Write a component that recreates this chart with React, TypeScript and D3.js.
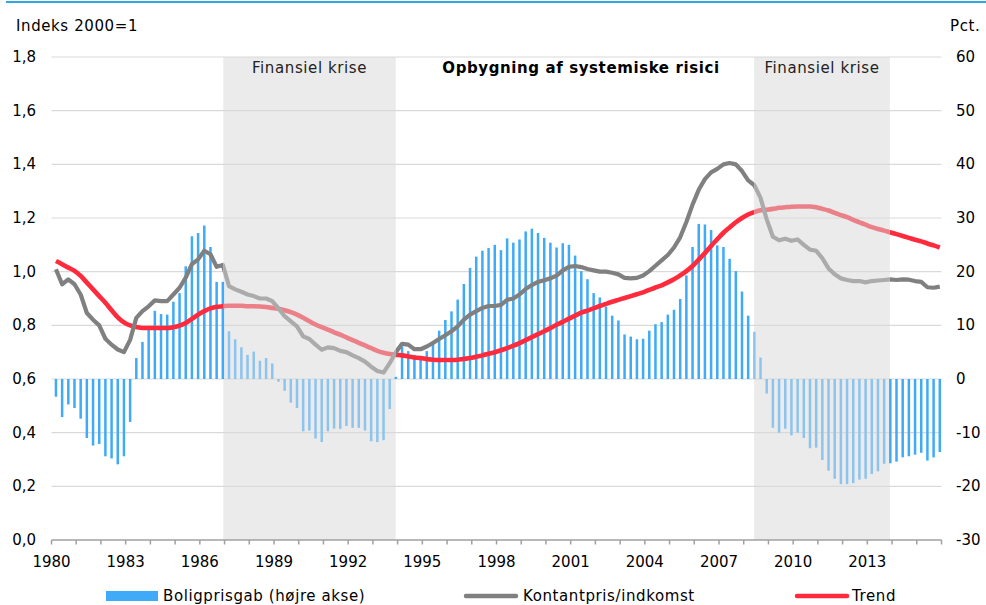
import * as d3 from 'd3'

// Quarterly data 1980Q1 - 2015Q4
const FIRST_YEAR = 1980
const N_QUARTERS = 144

// Boligprisgab, pct. (right axis)
const GAP = [
  -3.3, -7.1, -4.75, -5.4, -7.4, -11, -12.4, -12.1, -14.4, -14.8, -15.9, -14.4,
  -8, 3.9, 6.9, 9.6, 12.7, 12.1, 12.0, 14.4, 16.0, 21.0, 26.6, 27.2,
  28.6, 24.6, 18.1, 18.1, 8.9, 7.4, 5.9, 4.5, 5.1, 3.4, 3.9, 2.9,
  -0.5, -2.2, -4.4, -5.4, -9.75, -9.6, -11.1, -11.75, -9.75, -9.25, -9.3, -8.75,
  -9.1, -9.1, -9.6, -11.6, -11.75, -11.4, -5.6, 0.4, 6.0, 5.2, 4.5, 4.3,
  5.2, 7.1, 9.0, 11.0, 12.6, 14.8, 17.7, 20.7, 22.8, 23.9, 24.4, 25.0,
  24.0, 26.2, 25.4, 26.0, 27.5, 28.0, 27.2, 26.3, 25.4, 24.5, 25.3, 25.0,
  23.0, 20.1, 18.6, 16.0, 15.2, 13.5, 11.8, 10.9, 8.3, 7.9, 7.4, 7.5,
  9.0, 10.2, 10.6, 12.0, 12.9, 14.9, 19.3, 24.6, 28.9, 28.8, 27.75, 24.9,
  24.6, 22.4, 20.1, 16.3, 11.8, 8.8, 4.0, -2.7, -9.1, -10, -9.25, -10.5,
  -10, -11, -12.9, -12.8, -15.1, -17.1, -18.6, -19.6, -19.6, -19.4, -18.75, -18.6,
  -17.7, -17.2, -15.8, -15.7, -15.4, -14.6, -14.4, -14.1, -13.75, -15.2, -14.6, -13.6,
]

// Kontantpris/indkomst, indeks 2000=1 (left axis)
const PRICE_INCOME = [
  1.009, 0.953, 0.971, 0.953, 0.915, 0.846, 0.821, 0.80, 0.75, 0.728, 0.71, 0.70,
  0.746, 0.828, 0.853, 0.871, 0.893, 0.89, 0.89, 0.915, 0.94, 0.978, 1.028, 1.046,
  1.078, 1.065, 1.018, 1.025, 0.946, 0.934, 0.925, 0.915, 0.909, 0.90, 0.90, 0.89,
  0.863, 0.834, 0.815, 0.796, 0.759, 0.749, 0.728, 0.709, 0.718, 0.715, 0.705, 0.70,
  0.688, 0.678, 0.665, 0.646, 0.63, 0.624, 0.659, 0.70, 0.731, 0.728, 0.711, 0.711,
  0.721, 0.734, 0.749, 0.763, 0.778, 0.796, 0.821, 0.84, 0.853, 0.865, 0.872, 0.872,
  0.876, 0.895, 0.9, 0.915, 0.935, 0.95, 0.962, 0.968, 0.975, 0.985, 1.005, 1.018,
  1.021, 1.017, 1.01, 1.005, 1.0, 1.0, 0.996, 0.99, 0.977, 0.975, 0.977, 0.986,
  1.002, 1.022, 1.042, 1.062, 1.09, 1.128, 1.185, 1.25, 1.305, 1.345, 1.37, 1.383,
  1.40, 1.405, 1.40, 1.375, 1.34, 1.322, 1.275, 1.195, 1.13, 1.117, 1.123, 1.115,
  1.12, 1.1, 1.082, 1.078, 1.05, 1.012, 0.99, 0.975, 0.969, 0.965, 0.965, 0.96,
  0.965, 0.967, 0.969, 0.971, 0.969, 0.971, 0.97, 0.965, 0.962, 0.942, 0.94, 0.944,
]

// Trend (left axis)
const TREND = [
  1.04, 1.028, 1.015, 1.003, 0.984, 0.959, 0.934, 0.909, 0.884, 0.856, 0.83, 0.811,
  0.80, 0.794, 0.79, 0.79, 0.79, 0.79, 0.79, 0.793, 0.799, 0.809, 0.824, 0.84,
  0.853, 0.863, 0.869, 0.871, 0.873, 0.873, 0.873, 0.871, 0.871, 0.87, 0.868, 0.865,
  0.862, 0.856, 0.849, 0.84, 0.828, 0.815, 0.803, 0.793, 0.784, 0.774, 0.765, 0.755,
  0.745, 0.735, 0.725, 0.715, 0.705, 0.698, 0.693, 0.69, 0.688, 0.684, 0.68, 0.678,
  0.674, 0.672, 0.671, 0.671, 0.671, 0.672, 0.675, 0.678, 0.683, 0.688, 0.694, 0.70,
  0.707, 0.715, 0.724, 0.734, 0.745, 0.756, 0.767, 0.778, 0.79, 0.802, 0.813, 0.825,
  0.836, 0.847, 0.855, 0.863, 0.872, 0.88, 0.888, 0.895, 0.902, 0.909, 0.916, 0.923,
  0.932, 0.941, 0.949, 0.96, 0.972, 0.986, 1.002, 1.021, 1.045, 1.069, 1.096, 1.121,
  1.145, 1.165, 1.184, 1.2, 1.213, 1.222, 1.229, 1.231, 1.234, 1.238, 1.24, 1.242,
  1.243, 1.243, 1.243, 1.24, 1.234, 1.228, 1.219, 1.211, 1.203, 1.193, 1.184, 1.175,
  1.166, 1.159, 1.153, 1.146, 1.14, 1.133, 1.126, 1.119, 1.113, 1.105, 1.098, 1.09,
]

// Crisis periods (decimal years)
const CRISES = [
  { from: 1986.95, to: 1993.925, label: 'Finansiel krise' },
  { from: 2008.42, to: 2013.91, label: 'Finansiel krise' },
]

const LEFT_TICKS = [0, 0.2, 0.4, 0.6, 0.8, 1.0, 1.2, 1.4, 1.6, 1.8]
const RIGHT_TICKS = [-30, -20, -10, 0, 10, 20, 30, 40, 50, 60]
const YEAR_LABELS = d3.range(1980, 2014, 3)

const FONT = '"DejaVu Sans", Verdana, sans-serif'
const BLUE = '#3FAAF7'
const BLUE_FADED = '#8DC4EE'
const GRAY = '#808080'
const GRAY_FADED = '#ABABAB'
const RED = '#FF2B3D'
const RED_FADED = '#EB8089'

const W = 986
const H = 605
const WORD_SPACING = 0.6 // Verdana is a bit wider than DejaVu

export default function App() {
  const x = d3.scaleLinear().domain([1980, 2016]).range([51.5, 941.5])
  const yL = d3.scaleLinear().domain([0, 1.8]).range([540, 57])
  const yR = d3.scaleLinear().domain([-30, 60]).range([540, 57])

  const times = d3.range(N_QUARTERS).map((i) => FIRST_YEAR + 0.18 + i / 4)
  const inCrisis = (t: number) => CRISES.some((c) => t >= c.from && t < c.to)

  const priceLine = d3.line<number>()
    .x((_, i) => x(times[i]))
    .y((d) => yL(d))
  const trendLine = d3.line<number>()
    .x((_, i) => x(times[i]))
    .y((d) => yL(d))
    .curve(d3.curveMonotoneX)

  const pricePath = priceLine(PRICE_INCOME) || ''
  const trendPath = trendLine(TREND) || ''

  // outside-crisis clip regions
  const bounds = [x(1980) - 10, ...CRISES.flatMap((c) => [x(c.from), x(c.to)]), W]
  const outside: [number, number][] = []
  for (let k = 0; k < bounds.length; k += 2) outside.push([bounds[k], bounds[k + 1]])

  const txt = { fontSize: 15, fill: '#000', letterSpacing: WORD_SPACING }

  return (
    <div style={{ position: 'absolute', left: 0, top: 0 }}>
      <svg width={W} height={H} style={{ display: 'block', background: '#fff', fontFamily: FONT }}>
        <defs>
          <clipPath id="clip-in">
            {CRISES.map((c, k) => (
              <rect key={k} x={x(c.from)} y={0} width={x(c.to) - x(c.from)} height={H} />
            ))}
          </clipPath>
          <clipPath id="clip-out">
            {outside.map(([a, b], k) => (
              <rect key={k} x={a} y={0} width={b - a} height={H} />
            ))}
          </clipPath>
        </defs>

        {/* top rule */}
        <line x1={6} x2={W} y1={2} y2={2} stroke="#2EA9E1" strokeWidth={2} />

        {/* crisis shading */}
        {CRISES.map((c, k) => (
          <rect key={k} x={x(c.from)} y={yL(1.8)} width={x(c.to) - x(c.from)}
            height={yL(0) - yL(1.8)} fill="#EBEBEB" />
        ))}

        {/* grid */}
        {LEFT_TICKS.filter((t) => t > 0).map((t) => (
          <line key={t} x1={x(1980)} x2={x(2016)} y1={yL(t)} y2={yL(t)} stroke="#D9D9D9" strokeWidth={1.2} />
        ))}

        {/* bars */}
        {GAP.map((v, i) => {
          const t = times[i]
          const y0 = yR(0)
          const y1 = yR(v)
          return (
            <rect key={i} x={x(t) - 1.25} width={2.5}
              y={Math.min(y0, y1)} height={Math.abs(y1 - y0)}
              fill={inCrisis(t) ? BLUE_FADED : BLUE} />
          )
        })}

        {/* lines */}
        <g fill="none" strokeWidth={4.2} strokeLinejoin="round">
          <path d={trendPath} stroke={RED} clipPath="url(#clip-out)" strokeWidth={4.6} />
          <path d={trendPath} stroke={RED_FADED} clipPath="url(#clip-in)" strokeWidth={4.6} />
          <path d={pricePath} stroke={GRAY} clipPath="url(#clip-out)" />
          <path d={pricePath} stroke={GRAY_FADED} clipPath="url(#clip-in)" />
        </g>

        {/* x axis */}
        <line x1={x(1980)} x2={x(2016)} y1={yL(0)} y2={yL(0)} stroke="#A0A0A0" strokeWidth={1.5} />
        {d3.range(1980, 2017).map((yr) => (
          <line key={yr} x1={x(yr)} x2={x(yr)} y1={yL(0)} y2={yL(0) + 4.5} stroke="#A0A0A0" strokeWidth={1.5} />
        ))}
        {YEAR_LABELS.map((yr) => (
          <text key={yr} x={x(yr)} y={567} textAnchor="middle" fontSize={15} fill="#000">{yr}</text>
        ))}

        {/* y axes */}
        {LEFT_TICKS.map((t) => (
          <text key={t} x={36} y={yL(t) + 5} textAnchor="end" fontSize={15} fill="#000">
            {t.toFixed(1).replace('.', ',')}
          </text>
        ))}
        {RIGHT_TICKS.map((t) => (
          <text key={t} x={956} y={yR(t) + 5} textAnchor="start" fontSize={15} fill="#000">{t}</text>
        ))}
        <text x={16} y={31} {...txt}>Indeks 2000=1</text>
        <text x={950} y={31} {...txt}>Pct.</text>

        {/* annotations */}
        {CRISES.map((c, k) => (
          <text key={k} x={(x(c.from) + x(c.to)) / 2} y={73} textAnchor="middle" {...txt} fill="#222">
            {c.label}
          </text>
        ))}
        <text x={581} y={73} textAnchor="middle" {...txt} fontWeight="bold">
          Opbygning af systemiske risici
        </text>

        {/* legend */}
        <rect x={106} y={591} width={52} height={10} fill={BLUE} />
        <text x={163} y={601} {...txt}>Boligprisgab (højre akse)</text>
        <line x1={466} x2={516} y1={596} y2={596} stroke={GRAY} strokeWidth={4.5} strokeLinecap="round" />
        <text x={523} y={601} {...txt}>Kontantpris/indkomst</text>
        <line x1={797} x2={847} y1={596} y2={596} stroke={RED} strokeWidth={4.5} strokeLinecap="round" />
        <text x={852} y={601} {...txt}>Trend</text>
      </svg>
    </div>
  )
}
